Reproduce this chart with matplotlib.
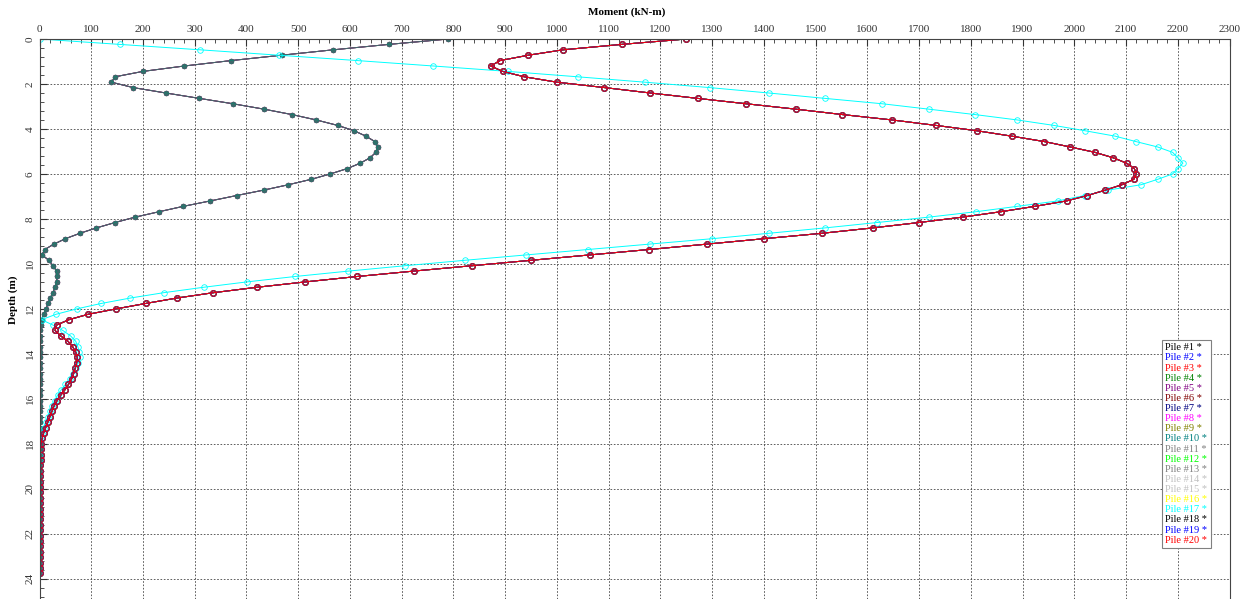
import numpy as np
import matplotlib
matplotlib.use('Agg')
import matplotlib.pyplot as plt
from matplotlib.lines import Line2D

plt.rcParams['font.family'] = ['Liberation Serif', 'DejaVu Serif']

# depth stations along the pile (m), 0.24 m spacing
depth = np.round(np.arange(100) * 0.24, 2)

# moment (kN-m), one curve per group of piles
moment_a = [1250, 1125, 1012, 945, 890, 872, 895, 937, 1000, 1092,
            1180, 1272, 1366, 1462, 1552, 1648, 1732, 1812, 1879, 1942,
            1992, 2040, 2075, 2101, 2116, 2120, 2115, 2092, 2060, 2025,
            1985, 1924, 1858, 1784, 1700, 1610, 1512, 1400, 1290, 1178,
            1064, 950, 836, 723, 614, 514, 420, 336, 265, 205,
            148, 94, 57, 33, 30, 41, 55, 64, 70, 73,
            72, 69, 66, 62, 56, 49, 41, 34, 28, 24,
            20, 16, 12, 8, 5, 3, 2, 2, 2, 1,
            1, 1, 1, 1, 1, 1, 1, 1, 1, 1,
            1, 1, 1, 1, 0, 0, 0, 0, 0, 0]

moment_b = [790, 675, 568, 468, 370, 280, 200, 146, 139, 181,
            244, 309, 374, 434, 488, 535, 576, 608, 631, 648,
            654, 650, 639, 620, 595, 562, 525, 481, 433, 381,
            330, 278, 231, 185, 146, 110, 78, 50, 28, 10,
            5, 18, 26, 33, 34, 33, 30, 26, 21, 17,
            12, 8, 4, 2, 1, 1, 1, 1, 1, 1,
            1, 1, 1, 1, 1, 1, 1, 1, 1, 1,
            1, 1, 1, 1, 1, 1, 1, 1, 1, 1,
            1, 1, 1, 1, 1, 1, 1, 1, 0, 0,
            0, 0, 0, 0, 0, 0, 0, 0, 0, 0]

moment_c = [0, 155, 310, 462, 615, 761, 905, 1040, 1170, 1295,
            1409, 1518, 1629, 1719, 1808, 1890, 1960, 2021, 2079, 2119,
            2161, 2190, 2200, 2210, 2200, 2190, 2161, 2129, 2065, 2020,
            1968, 1890, 1810, 1719, 1619, 1518, 1409, 1300, 1179, 1060,
            941, 822, 707, 597, 494, 401, 317, 240, 175, 119,
            72, 32, 4, 26, 45, 60, 70, 74, 77, 78,
            75, 70, 64, 58, 50, 42, 35, 29, 24, 20,
            16, 12, 9, 5, 3, 2, 2, 1, 1, 1,
            1, 1, 1, 1, 1, 1, 1, 1, 1, 1,
            1, 1, 1, 0, 0, 0, 0, 0, 0, 0]

pile_labels = ['Pile #%d *' % i for i in range(1, 21)]
pile_colors = ['#000000', '#0000ff', '#ff0000', '#008000', '#800080',
               '#800000', '#000080', '#ff00ff', '#808000', '#008080',
               '#808080', '#00ff00', '#808080', '#c0c0c0', '#c0c0c0',
               '#ffff00', '#00ffff', '#000000', '#0000ff', '#ff0000']
pile_group = ['A', 'A', 'A', 'B', 'B', 'B', 'B', 'B', 'B', 'B',
              'A', 'A', 'A', 'A', 'A', 'A', 'C', 'A', 'A', 'A']

curves = {'A': moment_a, 'B': moment_b, 'C': moment_c}

W, H = 1244, 599
fig = plt.figure(figsize=(W / 100, H / 100), dpi=100)
ax = fig.add_axes([39.5 / W, 0, 1190 / W, 560 / H])

for lab, col, grp in zip(pile_labels, pile_colors, pile_group):
    if grp == 'B':
        ax.plot(curves[grp], depth, '-', color=col, lw=0.7, marker='o',
                ms=3.2, mfc=col, mec=col, mew=0.6, alpha=0.55)
    else:
        ax.plot(curves[grp], depth, '-', color=col, lw=0.7, marker='o',
                ms=4, mfc='none', mec=col, mew=0.6)

ax.set_xlim(0, 2300)
ax.set_ylim(24.9, 0)
ax.set_xticks(np.arange(0, 2301, 100))
ax.set_xticks(np.arange(0, 2301, 20), minor=True)
ax.set_yticks(np.arange(0, 25, 2))
ax.set_yticks(np.arange(0, 25, 0.4), minor=True)
ax.xaxis.tick_top()
ax.tick_params(which='both', direction='in', top=True, bottom=False,
               left=True, right=False, labelsize=8, colors='#333333')
ax.tick_params(which='major', length=5)
ax.tick_params(which='minor', length=3)
for t in ax.get_yticklabels():
    t.set_rotation(90)
    t.set_va('center')
ax.grid(True, which='major', linestyle=(0, (2, 2)), color='#444444', lw=0.6)
ax.spines['bottom'].set_visible(False)
for s in ['top', 'left', 'right']:
    ax.spines[s].set_color('#444444')

fig.text(627 / W, 1 - 12 / H, 'Moment (kN-m)', ha='center', va='center',
         fontsize=8, fontweight='bold')
fig.text(13 / W, 1 - 300 / H, 'Depth (m)', ha='center', va='center',
         rotation=90, fontsize=8, fontweight='bold')

handles = [Line2D([], [], linestyle='none') for _ in pile_labels]
leg = ax.legend(handles, pile_labels, loc='upper left',
                bbox_to_anchor=(0.9435, 0.4626), borderaxespad=0,
                handlelength=0, handletextpad=0, borderpad=0.3,
                labelspacing=0.08, fontsize=7.5, fancybox=False,
                edgecolor='#808080', framealpha=1)
leg.get_frame().set_linewidth(0.8)
for t, c in zip(leg.get_texts(), pile_colors):
    t.set_color(c)

fig.savefig('out.png', dpi=100)
